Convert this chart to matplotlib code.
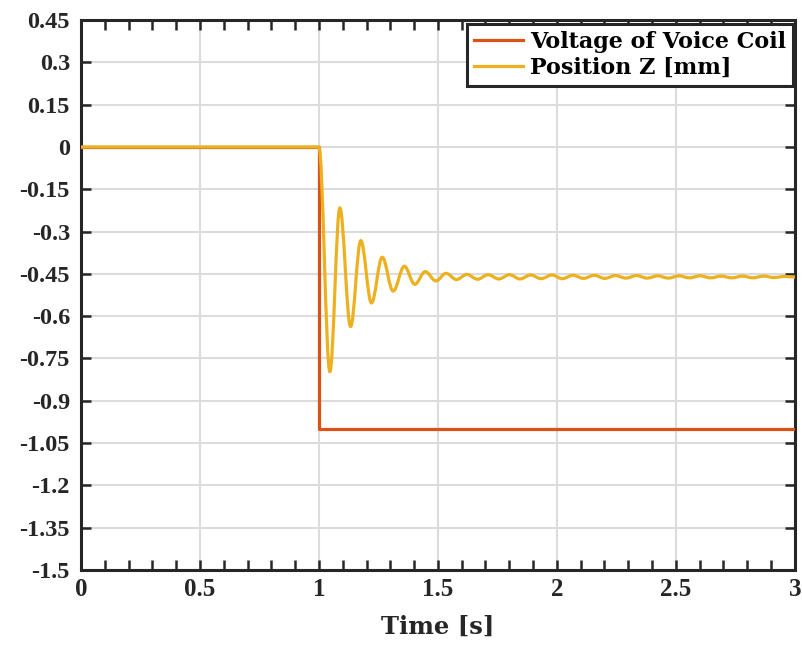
import numpy as np
import matplotlib
matplotlib.use("Agg")
import matplotlib.pyplot as plt
from matplotlib.path import Path
from matplotlib.patches import PathPatch
from matplotlib.lines import Line2D

plt.rcParams['font.family'] = ['DejaVu Serif']
plt.rcParams['font.weight'] = 'bold'

# Voice-coil voltage: step from 0 to -1 at t = 1 s
volt_t = [0.0, 1.0, 1.0, 3.0]
volt_v = [0.0, 0.0, -1.0, -1.0]

# Position Z [mm]: resting value, then the extrema of the damped ringing
pos_rest_t = [0.0, 1.0]
pos_rest_v = [0.0, 0.0]
ext_t = [1.046, 1.088, 1.133, 1.176, 1.221, 1.266, 1.312, 1.359, 1.403, 1.447,
         1.492, 1.534, 1.578, 1.622, 1.667, 1.711, 1.756, 1.801, 1.845, 1.890,
         1.934, 1.979, 2.023, 2.068, 2.112, 2.157, 2.201, 2.246, 2.290, 2.335,
         2.379, 2.424, 2.468, 2.513, 2.557, 2.602, 2.646, 2.691, 2.735, 2.780,
         2.824, 2.869, 2.913, 2.958, 3.000]
ext_v = [-0.797, -0.216, -0.637, -0.332, -0.553, -0.391, -0.511, -0.423, -0.487, -0.442,
         -0.475, -0.448, -0.470, -0.452, -0.469, -0.453, -0.468, -0.453, -0.468, -0.454,
         -0.467, -0.454, -0.467, -0.455, -0.466, -0.455, -0.466, -0.456, -0.465, -0.456,
         -0.465, -0.457, -0.465, -0.457, -0.464, -0.457, -0.464, -0.458, -0.464, -0.458,
         -0.464, -0.458, -0.463, -0.459, -0.461]

xticks = [0, 0.5, 1, 1.5, 2, 2.5, 3]
xtick_labels = ['0', '0.5', '1', '1.5', '2', '2.5', '3']
yticks = [0.45, 0.3, 0.15, 0, -0.15, -0.3, -0.45, -0.6, -0.75, -0.9, -1.05, -1.2, -1.35, -1.5]
ytick_labels = ['0.45', '0.3', '0.15', '0', '-0.15', '-0.3', '-0.45', '-0.6', '-0.75',
                '-0.9', '-1.05', '-1.2', '-1.35', '-1.5']

RED = '#D95319'
YELLOW = '#EDB120'
LW = 2.3
INK = '#262626'
NUM_FONT = ['Liberation Serif', 'DejaVu Serif']

fig = plt.figure(figsize=(8.02, 6.47), dpi=100)
ax = fig.add_axes([0.101, 0.119, 0.890, 0.850])

ax.plot(volt_t, volt_v, color=RED, lw=LW, zorder=3)

# Smooth curve through the extrema: cubic Bezier segments with flat tangents
verts = [(pos_rest_t[0], pos_rest_v[0]), (pos_rest_t[1], pos_rest_v[1])]
codes = [Path.MOVETO, Path.LINETO]
prev_t, prev_v = pos_rest_t[1], pos_rest_v[1]
for t, v in zip(ext_t, ext_v):
    d = (t - prev_t) * 0.364
    verts += [(prev_t + d, prev_v), (t - d, v), (t, v)]
    codes += [Path.CURVE4] * 3
    prev_t, prev_v = t, v
ax.add_patch(PathPatch(Path(verts, codes), fill=False, edgecolor=YELLOW, lw=LW,
                       capstyle='round', joinstyle='round', zorder=4))

ax.set_xlim(0, 3)
ax.set_ylim(-1.5, 0.45)
ax.set_xticks(xticks)
ax.set_xticklabels(xtick_labels, family=NUM_FONT, fontweight='bold', fontsize=18)
ax.set_xticks(np.arange(1, 30) / 10.0, minor=True)
ax.set_yticks(yticks)
ax.set_yticklabels(ytick_labels, family=NUM_FONT, fontweight='bold', fontsize=17.5)

ax.grid(True, which='major', color='#DCDCDC', lw=1.5, zorder=0)
ax.set_axisbelow(True)
for s in ax.spines.values():
    s.set_linewidth(2.2)
    s.set_color(INK)
ax.tick_params(which='both', direction='in', top=True, right=True, length=7,
               width=1.8, color=INK, labelcolor=INK, pad=8)
ax.tick_params(axis='x', pad=6)

ax.set_xlabel('Time [s]', fontsize=17.5, fontweight='bold', color=INK, labelpad=10)

handles = [Line2D([], [], color=RED, lw=LW), Line2D([], [], color=YELLOW, lw=LW)]
leg = ax.legend(handles, ['Voltage of Voice Coil', 'Position Z [mm]'], loc='upper right',
                bbox_to_anchor=(0.9975, 0.993), fancybox=False, framealpha=1,
                edgecolor=INK, fontsize=16, handlelength=2.2, handletextpad=0.35,
                borderpad=0.3, labelspacing=0.2, borderaxespad=0)
leg.get_frame().set_linewidth(2.2)
for txt in leg.get_texts():
    txt.set_fontweight('bold')
    txt.set_color('black')

fig.savefig('out.png', dpi=100)
